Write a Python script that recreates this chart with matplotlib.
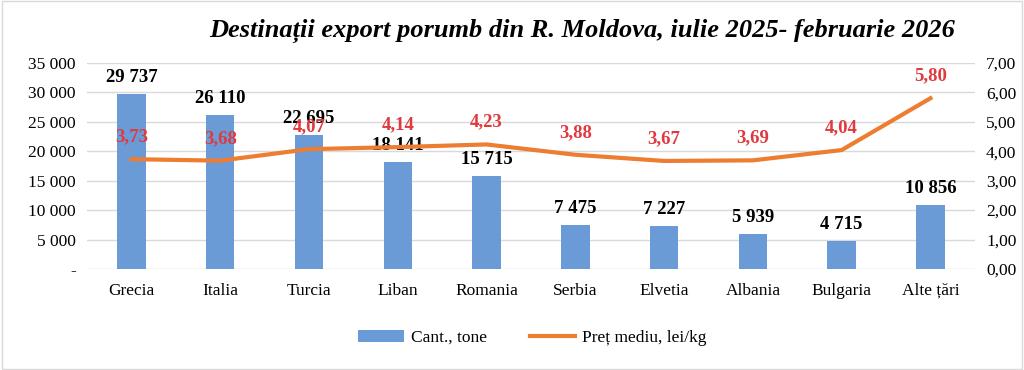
import matplotlib
matplotlib.use("Agg")
import matplotlib.pyplot as plt
from matplotlib.patches import Rectangle
from matplotlib.ticker import FuncFormatter

categories = ["Grecia", "Italia", "Turcia", "Liban", "Romania", "Serbia",
              "Elvetia", "Albania", "Bulgaria", "Alte țări"]
quantity = [29737, 26110, 22695, 18141, 15715, 7475, 7227, 5939, 4715, 10856]
price = [3.73, 3.68, 4.07, 4.14, 4.23, 3.88, 3.67, 3.69, 4.04, 5.80]

title = "Destinații export porumb din R. Moldova, iulie 2025- februarie 2026"
bar_label = "Cant., tone"
line_label = "Preț mediu, lei/kg"

plt.rcParams['font.family'] = ['Liberation Serif', 'DejaVu Serif']

fig = plt.figure(figsize=(10.24, 3.70), dpi=100)
fig.patches.append(Rectangle((0.002, 0.003), 0.996, 0.994, transform=fig.transFigure,
                             fill=False, edgecolor="#D9D9D9", linewidth=1.0))
ax = fig.add_axes([0.085, 0.273, 0.867, 0.557])
ax2 = ax.twinx()

x = list(range(len(categories)))
bars = ax.bar(x, quantity, width=0.32, color="#6A9BD6", zorder=2, label=bar_label)
ax.set_xlim(-0.5, len(categories) - 0.5)
ax.set_ylim(0, 35000)
ax.set_yticks(range(0, 35001, 5000))

def fmt_left(v, pos):
    if v == 0:
        return "-"
    return f"{int(v):,}".replace(",", " ")

ax.yaxis.set_major_formatter(FuncFormatter(fmt_left))
ax.set_xticks(x)
ax.set_xticklabels(categories)
ax.grid(axis="y", color="#D9D9D9", linewidth=1.0, zorder=0)
ax.set_axisbelow(True)
for s in ax.spines.values():
    s.set_visible(False)
for s in ax2.spines.values():
    s.set_visible(False)
ax.tick_params(axis="y", length=0, labelsize=12.5, pad=8)
ax.tick_params(axis="x", length=0, labelsize=12.5, pad=10)

line, = ax2.plot(x, price, color="#ED7D31", linewidth=3.0, zorder=3, label=line_label)
ax2.set_ylim(0, 7)
ax2.set_yticks([i for i in range(8)])
ax2.yaxis.set_major_formatter(FuncFormatter(lambda v, p: f"{v:.2f}".replace(".", ",")))
ax2.tick_params(axis="y", length=0, labelsize=12.5, pad=8)

for xi, q in zip(x, quantity):
    ax.annotate(f"{q:,}".replace(",", " "), (xi, q), xytext=(0, 6),
                textcoords="offset points", ha="center", va="bottom",
                fontsize=13.5, fontweight="bold", color="black", zorder=5)
for xi, p in zip(x, price):
    ax2.annotate(f"{p:.2f}".replace(".", ","), (xi, p), xytext=(0, 16),
                 textcoords="offset points", ha="center", va="center",
                 fontsize=13.5, fontweight="bold", color="#E0393E", zorder=6)

fig.text(0.568, 0.917, title, ha="center", va="center", fontsize=19,
         fontweight="bold", fontstyle="italic")

fig.legend(handles=[bars, line], labels=[bar_label, line_label],
           loc="center", bbox_to_anchor=(0.52, 0.087), ncol=2, frameon=False,
           fontsize=12.5, handlelength=2.6, columnspacing=2.5, handletextpad=0.4)

fig.savefig("out.png", dpi=100)
